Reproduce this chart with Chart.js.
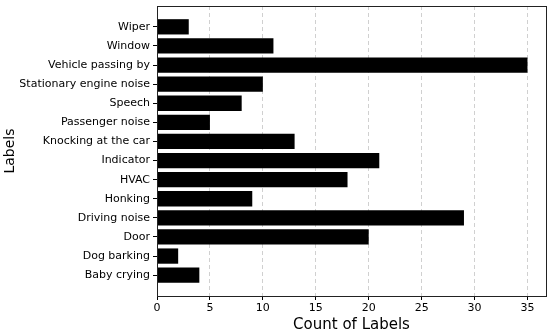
<!DOCTYPE html>
<html>
<head>
<meta charset="utf-8">
<script src="https://cdn.jsdelivr.net/npm/chart.js@4/dist/chart.umd.min.js"></script>
<style>
html,body{margin:0;padding:0;background:#fff;}
#wrap{width:550px;height:336px;}
</style>
</head>
<body>
<div id="wrap"><canvas id="c" width="550" height="336"></canvas></div>
<script>
const categories = ["Wiper","Window","Vehicle passing by","Stationary engine noise","Speech","Passenger noise","Knocking at the car","Indicator","HVAC","Honking","Driving noise","Door","Dog barking","Baby crying"];
const counts = [3,11,35,10,8,5,13,21,18,9,29,20,2,4];
const xTicks = [0,5,10,15,20,25,30,35];

const points = categories.map((c,i)=>({x:counts[i], y:i}));
const FONT = "'DejaVu Sans', sans-serif";

const frame = {
  id:'frame',
  afterDraw(chart){
    const a = chart.chartArea, ctx = chart.ctx;
    ctx.save();
    ctx.strokeStyle = '#222';
    ctx.lineWidth = 1;
    ctx.setLineDash([]);
    ctx.strokeRect(Math.round(a.left)+0.5, Math.round(a.top)+0.5, Math.round(a.right-a.left), Math.round(a.bottom-a.top));
    ctx.restore();
  }
};

new Chart(document.getElementById('c'), {
  type:'bar',
  data:{datasets:[{data:points, backgroundColor:'#000', borderColor:'#111', borderWidth:0, barPercentage:0.8, categoryPercentage:1}]},
  options:{
    indexAxis:'y',
    responsive:false,
    animation:false,
    devicePixelRatio:1,
    layout:{padding:{top:6,right:4,left:0,bottom:0}},
    plugins:{legend:{display:false},tooltip:{enabled:false}},
    scales:{
      x:{
        type:'linear', min:0, max:36.75, z:1, offset:false,
        afterBuildTicks(s){ s.ticks = xTicks.map(v=>({value:v})); },
        afterFit(s){ s.height = 40; },
        grid:{display:true, offset:false, drawOnChartArea:true, color:'rgba(176,176,176,0.75)', lineWidth:0.8, drawTicks:true, tickLength:4, tickColor:'#000', tickWidth:1, tickBorderDash:[]},
        border:{display:false, dash:[4,3]},
        ticks:{color:'#000', font:{family:FONT, size:11}, padding:2, maxRotation:0},
        title:{display:true, text:'Count of Labels', color:'#000', font:{family:FONT, size:15}, padding:{top:0,bottom:2}}
      },
      y:{
        type:'linear', min:-1.09, max:14.09, reverse:true, offset:false,
        afterBuildTicks(s){ s.ticks = categories.map((c,i)=>({value:i})); },
        afterFit(s){ s.width = 157; s.paddingTop = 0; s.paddingBottom = 0; },
        grid:{display:true, offset:false, drawOnChartArea:false, drawTicks:true, tickLength:4, tickColor:'#000', tickWidth:1},
        border:{display:false},
        ticks:{color:'#000', font:{family:FONT, size:11}, padding:3, autoSkip:false, callback:(v)=>categories[v]},
        title:{display:true, text:'Labels', color:'#000', font:{family:FONT, size:14}, padding:{top:2,bottom:0}}
      }
    }
  },
  plugins:[frame]
});
</script>
</body>
</html>
